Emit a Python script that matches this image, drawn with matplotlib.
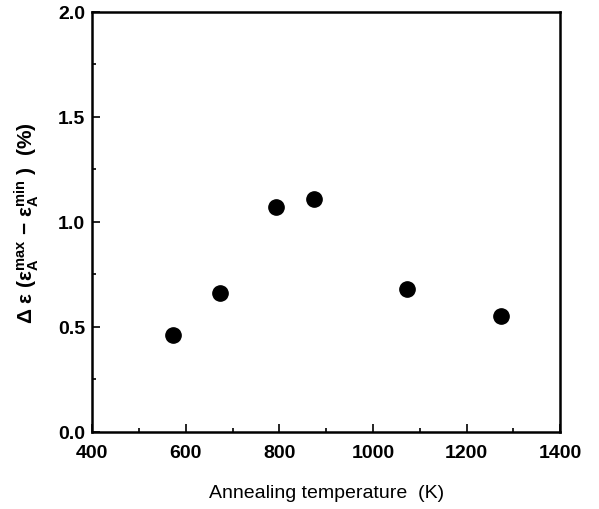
import matplotlib
matplotlib.use("Agg")
import matplotlib.pyplot as plt
from matplotlib.ticker import MultipleLocator

temps = [573, 673, 793, 873, 1073, 1273]
delta_eps = [0.46, 0.66, 1.07, 1.11, 0.68, 0.55]

plt.rcParams['font.family'] = ['Liberation Sans', 'DejaVu Sans']
plt.rcParams['mathtext.fontset'] = 'custom'
plt.rcParams['mathtext.rm'] = 'Liberation Sans:bold'
plt.rcParams['mathtext.it'] = 'Liberation Sans:bold'
plt.rcParams['mathtext.bf'] = 'Liberation Sans:bold'

fig = plt.figure(figsize=(5.99, 5.10), dpi=100)
ax = fig.add_axes([0.154, 0.151, 0.781, 0.824])
ax.plot(temps, delta_eps, 'o', color='black', markersize=11)
ax.set_xlim(400, 1400)
ax.set_ylim(0, 2.0)
ax.xaxis.set_major_locator(MultipleLocator(200))
ax.xaxis.set_minor_locator(MultipleLocator(100))
ax.set_yticks([0, 0.5, 1.0, 1.5, 2.0])
ax.set_yticklabels(['0.0', '0.5', '1.0', '1.5', '2.0'])
ax.yaxis.set_minor_locator(MultipleLocator(0.25))
ax.tick_params(which='both', direction='in', labelsize=14, width=1.2)
ax.tick_params(which='major', length=6)
ax.tick_params(which='minor', length=3)
ax.tick_params(axis='x', pad=9)
ax.tick_params(axis='y', pad=5)
for lab in ax.get_xticklabels() + ax.get_yticklabels():
    lab.set_fontweight('bold')
for s in ax.spines.values():
    s.set_linewidth(1.8)
ax.set_xlabel('Annealing temperature  (K)', fontsize=14, labelpad=16)
ax.set_ylabel(r'$\Delta$ ε (ε$_{\mathrm{A}}^{\mathrm{max}}$ − ε$_{\mathrm{A}}^{\mathrm{min}}$ )  (%)',
              fontsize=15, fontweight='bold', labelpad=12)
fig.savefig('out.png', dpi=100)
